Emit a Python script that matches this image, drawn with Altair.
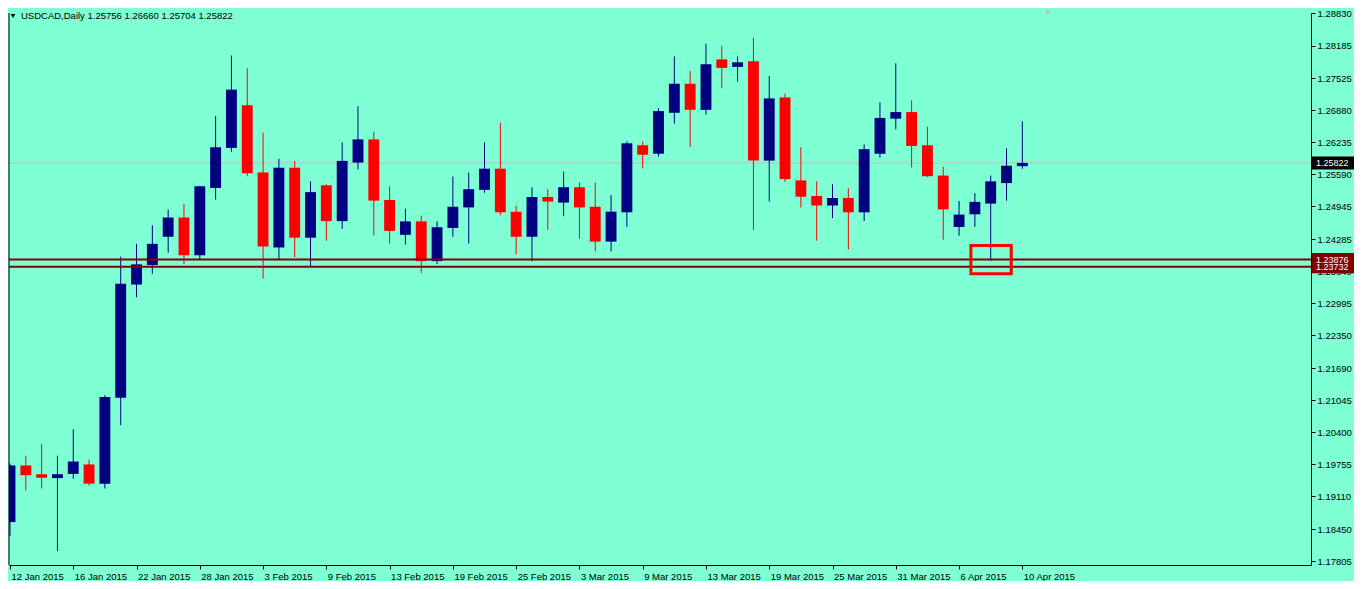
import altair as alt
import pandas as pd

# ---------------- data ----------------
symbol_title = "USDCAD,Daily"

x_labels = ["12 Jan 2015", "16 Jan 2015", "22 Jan 2015", "28 Jan 2015", "3 Feb 2015",
            "9 Feb 2015", "13 Feb 2015", "19 Feb 2015", "25 Feb 2015", "3 Mar 2015",
            "9 Mar 2015", "13 Mar 2015", "19 Mar 2015", "25 Mar 2015", "31 Mar 2015",
            "6 Apr 2015", "10 Apr 2015"]

y_ticks = [1.28830, 1.28185, 1.27525, 1.26880, 1.26235, 1.25590, 1.24945, 1.24285,
           1.23640, 1.22995, 1.22350, 1.21690, 1.21045, 1.20400, 1.19755, 1.19110,
           1.18450, 1.17805]

opens = [1.18590, 1.19730, 1.19553, 1.19475, 1.19559, 1.19750, 1.19363, 1.21092, 1.23372, 1.23765,
         1.24335, 1.24722, 1.23962, 1.25318, 1.26124, 1.26983, 1.25626, 1.24119, 1.25725, 1.24316,
         1.25371, 1.24650, 1.25829, 1.26295, 1.25076, 1.24374, 1.24644, 1.23844, 1.24512, 1.24925,
         1.25279, 1.25705, 1.24840, 1.24335, 1.25135, 1.25023, 1.25332, 1.24939, 1.24237, 1.24827,
         1.26177, 1.26006, 1.26831, 1.27415, 1.26890, 1.27906, 1.27755, 1.27867, 1.25868, 1.27140,
         1.25469, 1.25155, 1.24964, 1.25115, 1.24827, 1.26006, 1.26713, 1.26845, 1.26177, 1.25567,
         1.24532, 1.24787, 1.25003, 1.25416, 1.25756]
highs = [1.19770, 1.19927, 1.20163, 1.19927, 1.20457, 1.19848, 1.21145, 1.23936, 1.24192, 1.24565,
         1.24880, 1.24998, 1.25360, 1.26766, 1.27985, 1.27729, 1.26432, 1.25902, 1.25862, 1.25450,
         1.25391, 1.26236, 1.26963, 1.26452, 1.25351, 1.24899, 1.24762, 1.24644, 1.25548, 1.25626,
         1.26236, 1.26629, 1.24958, 1.25332, 1.25292, 1.25646, 1.25430, 1.25430, 1.25174, 1.26255,
         1.26255, 1.26924, 1.27965, 1.27670, 1.28221, 1.28181, 1.27965, 1.28339, 1.27572, 1.27218,
         1.26137, 1.25450, 1.25391, 1.25312, 1.26196, 1.27042, 1.27828, 1.27081, 1.26550, 1.25744,
         1.25056, 1.25214, 1.25567, 1.26118, 1.26660]
lows = [1.18315, 1.19225, 1.19264, 1.18007, 1.19461, 1.19323, 1.19264, 1.20542, 1.23117, 1.23588,
        1.24015, 1.23785, 1.23863, 1.25082, 1.26045, 1.25554, 1.23490, 1.23883, 1.23922, 1.23746,
        1.24257, 1.24492, 1.25691, 1.24355, 1.24198, 1.24178, 1.23602, 1.23785, 1.24335, 1.24198,
        1.25220, 1.24768, 1.23981, 1.23844, 1.24473, 1.24748, 1.24296, 1.24040, 1.24040, 1.24532,
        1.25711, 1.25947, 1.26615, 1.26143, 1.26792, 1.27323, 1.27460, 1.24473, 1.25043, 1.25436,
        1.24925, 1.24257, 1.24709, 1.24080, 1.24650, 1.25927, 1.26497, 1.25731, 1.25534, 1.24276,
        1.24355, 1.24532, 1.23850, 1.25062, 1.25704]
closes = [1.19730, 1.19534, 1.19481, 1.19553, 1.19809, 1.19363, 1.21106, 1.23386, 1.23779, 1.24192,
          1.24722, 1.23962, 1.25351, 1.26137, 1.27297, 1.25613, 1.24139, 1.25725, 1.24316, 1.25233,
          1.24650, 1.25862, 1.26295, 1.25062, 1.24453, 1.24644, 1.23844, 1.24526, 1.24939, 1.25292,
          1.25705, 1.24827, 1.24335, 1.25135, 1.25043, 1.25332, 1.24925, 1.24237, 1.24840, 1.26216,
          1.25986, 1.26865, 1.27415, 1.26890, 1.27808, 1.27735, 1.27847, 1.25868, 1.27120, 1.25495,
          1.25141, 1.24964, 1.25115, 1.24827, 1.26098, 1.26727, 1.26845, 1.26163, 1.25554, 1.24885,
          1.24781, 1.25037, 1.25450, 1.25764, 1.25822]

level_prices = [1.23876, 1.23732]
last_price = closes[-1]

# annotation box (candle-index units / price units)
box_x = [60.75, 63.3]
box_y = [1.23588, 1.24158]

# ---------------- layout / style ----------------
W, H = 1302, 552
BG = "#7FFFD4"
UP, DOWN = "#000080", "#FF0000"
LEVEL = "#800000"
FONT = "Liberation Sans"
FS = 9.5
x_dom = [-0.0625, 82.25]
y_dom = [1.177255, 1.28840]
half_body = 0.344
label_half = 0.00131

n = len(opens)
df = pd.DataFrame({"i": list(range(n)), "open": opens, "high": highs,
                   "low": lows, "close": closes})
df["dir"] = ["up" if c >= o else "down" for o, c in zip(opens, closes)]

xs = alt.Scale(domain=x_dom, nice=False, zero=False)
ys = alt.Scale(domain=y_dom, nice=False, zero=False)
cs = alt.Scale(domain=["up", "down"], range=[UP, DOWN])

label_expr = "[" + ",".join("'%s'" % s for s in x_labels) + "][round(datum.value/4)]"


def x_axis():
    return alt.Axis(values=list(range(0, 4 * len(x_labels), 4)), labelExpr=label_expr,
                    orient="bottom", tickSize=4, labelAlign="left", labelOffset=1,
                    labelPadding=2, labelOverlap=False, labelFlush=False, grid=False,
                    title=None, domainColor="black", tickColor="black", labelColor="black",
                    labelFont=FONT, labelFontSize=FS)


def y_axis():
    return alt.Axis(values=y_ticks, format=".5f", orient="right", tickSize=4,
                    labelPadding=2, labelOverlap=False, grid=False, title=None,
                    domainColor="black", tickColor="black", labelColor="black",
                    labelFont=FONT, labelFontSize=FS)


base = alt.Chart(df)

close_line = alt.Chart(pd.DataFrame({"p": [last_price]})).mark_rule(
    color="#C0C0C0", strokeWidth=1).encode(
    y=alt.Y("p:Q", scale=ys, axis=y_axis()))

wicks = base.mark_rule(strokeWidth=1, clip=True).encode(
    x=alt.X("i:Q", scale=xs, axis=x_axis()),
    y=alt.Y("low:Q", scale=ys, axis=y_axis()),
    y2="high:Q",
    color=alt.Color("dir:N", scale=cs, legend=None),
)

bodies = base.transform_calculate(
    x0="datum.i - %f" % half_body, x1="datum.i + %f" % half_body
).mark_rect(clip=True).encode(
    x=alt.X("x0:Q", scale=xs, axis=x_axis()),
    x2="x1:Q",
    y=alt.Y("open:Q", scale=ys, axis=y_axis()),
    y2="close:Q",
    color=alt.Color("dir:N", scale=cs, legend=None),
)

levels = alt.Chart(pd.DataFrame({"p": level_prices})).mark_rule(
    color=LEVEL, strokeWidth=2).encode(
    y=alt.Y("p:Q", scale=ys, axis=y_axis()))

box = alt.Chart(pd.DataFrame({"x0": [box_x[0]], "x1": [box_x[1]],
                              "y0": [box_y[0]], "y1": [box_y[1]]})).mark_rect(
    fillOpacity=0, stroke="#FF0000", strokeWidth=3).encode(
    x=alt.X("x0:Q", scale=xs, axis=x_axis()), x2="x1:Q",
    y=alt.Y("y0:Q", scale=ys, axis=y_axis()), y2="y1:Q")

# price labels on the right axis
tag_df = pd.DataFrame({"p": [last_price] + level_prices,
                       "bg": ["#000000", LEVEL, LEVEL]})
tags = alt.Chart(tag_df).transform_calculate(
    pa="datum.p + %f" % label_half, pb="datum.p - %f" % label_half
).mark_rect().encode(
    x=alt.value(W + 1), x2=alt.value(W + 43),
    y=alt.Y("pa:Q", scale=ys, axis=y_axis()), y2="pb:Q",
    color=alt.Color("bg:N", scale=None))
tag_text = alt.Chart(tag_df).mark_text(
    align="left", baseline="middle", color="white", font=FONT, fontSize=9).encode(
    x=alt.value(W + 5), y=alt.Y("p:Q", scale=ys, axis=y_axis()),
    text=alt.Text("p:Q", format=".5f"))

# header text
header = "%s  %.5f %.5f %.5f %.5f" % (symbol_title, opens[-1], highs[-1], lows[-1], closes[-1])
title_text = alt.Chart(pd.DataFrame({"t": [header]})).mark_text(
    align="left", baseline="middle", color="black", font=FONT, fontSize=FS).encode(
    x=alt.value(12), y=alt.value(3), text="t:N")
title_tri = alt.Chart(pd.DataFrame({"t": [1]})).mark_point(
    shape="triangle-down", filled=True, size=22, color="black", opacity=1).encode(
    x=alt.value(4), y=alt.value(3))
shift_tri = alt.Chart(pd.DataFrame({"s": [65.6]})).mark_point(
    shape="triangle-down", filled=True, size=20, color="#F0A0A8", opacity=1).encode(
    x=alt.X("s:Q", scale=xs, axis=x_axis()), y=alt.value(0))

left_frame = alt.Chart(pd.DataFrame({"t": [1]})).mark_rule(
    color="black", strokeWidth=1).encode(
    x=alt.value(0), y=alt.value(0), y2=alt.value(H))

chart = alt.layer(
    close_line, wicks, bodies, levels, box, tags, tag_text,
    title_text, title_tri, shift_tri, left_frame
).properties(width=W, height=H, padding=0, background=BG).configure_view(
    strokeWidth=0, fill=BG)

chart.save("out.html", embed_options={"renderer": "svg", "actions": False})
